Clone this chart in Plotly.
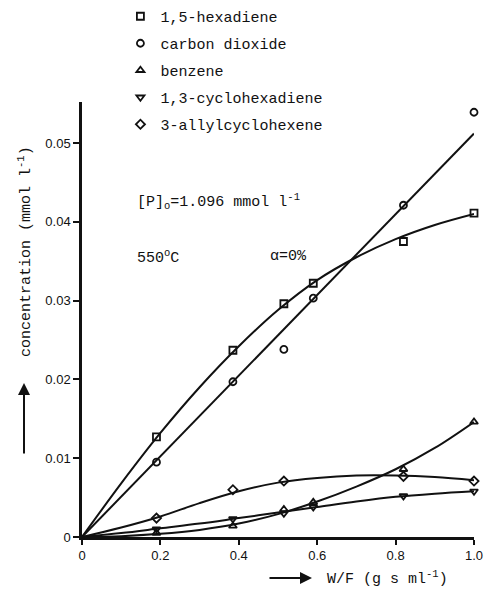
import plotly.graph_objects as go

# ---- data ----
wf = [0, 0.19, 0.385, 0.515, 0.59, 0.82, 1.0]
hexadiene = [0, 0.0127, 0.0237, 0.0296, 0.0322, 0.0375, 0.0411]
co2 = [0, 0.0095, 0.0197, 0.0238, 0.0303, 0.0421, 0.0539]
benzene = [0, 0.0005, 0.0014, 0.0035, 0.0044, 0.0086, 0.0146]
cyclohexadiene = [0, 0.0010, 0.0023, 0.0030, 0.0038, 0.0052, 0.0058]
wf_allyl = [0, 0.19, 0.385, 0.515, 0.82, 1.0]
allyl = [0, 0.0024, 0.0060, 0.0071, 0.0077, 0.0071]

# fitted curves
fit_x = [0, 0.1, 0.2, 0.3, 0.4, 0.5, 0.6, 0.7, 0.8, 0.9, 1.0]
fit_hexadiene = [0, 0.0068, 0.0132, 0.0190, 0.0242, 0.0288, 0.0326, 0.0355, 0.0378, 0.0396, 0.0410]
fit_co2_x = [0, 1.0]
fit_co2 = [0, 0.0512]
fit_benzene = [0, 0.0001, 0.0004, 0.0009, 0.0017, 0.0029, 0.0045, 0.0064, 0.0086, 0.0113, 0.0146]
fit_cyclohexadiene = [0, 0.0005, 0.0011, 0.0017, 0.0024, 0.0031, 0.0038, 0.0045, 0.0051, 0.0055, 0.0058]
fit_allyl = [0, 0.0012, 0.0026, 0.0043, 0.0058, 0.0069, 0.0075, 0.0078, 0.0078, 0.0076, 0.0072]

names = ["1,5-hexadiene", "carbon dioxide", "benzene", "1,3-cyclohexadiene", "3-allylcyclohexene"]
symbols = ["square-open", "circle-open", "triangle-up-open", "triangle-down-open", "diamond-open"]

x_ticks = [0, 0.2, 0.4, 0.6, 0.8, 1.0]
x_ticktext = ["0", "0.2", "0.4", "0.6", "0.8", "1.0"]
y_ticks = [0, 0.01, 0.02, 0.03, 0.04, 0.05]
y_ticktext = ["0", "0.01", "0.02", "0.03", "0.04", "0.05"]

INK = "#111111"
MONO = "Liberation Mono, DejaVu Sans Mono, monospace"
SANS = "Liberation Sans, Arial, sans-serif"

W, H = 487, 590
L, R, T, B = 82, 13, 102, 53
PW, PH = W - L - R, H - T - B


def px_x(p):
    return (p - L) / PW


def px_y(p):
    return (H - B - p) / PH


fig = go.Figure()

fits = [(fit_x, fit_hexadiene, "spline"), (fit_co2_x, fit_co2, "linear"),
        (fit_x, fit_benzene, "spline"), (fit_x, fit_cyclohexadiene, "spline"),
        (fit_x, fit_allyl, "spline")]
for fx, fy, shape in fits:
    fig.add_trace(go.Scatter(x=fx, y=fy, mode="lines", showlegend=False,
                             line=dict(color=INK, width=2, shape=shape, smoothing=1.0),
                             hoverinfo="skip", cliponaxis=False))

pts = [(wf, hexadiene), (wf, co2), (wf, benzene), (wf, cyclohexadiene), (wf_allyl, allyl)]
for i, (px, py) in enumerate(pts):
    fig.add_trace(go.Scatter(x=px[1:], y=py[1:], mode="markers", name=names[i],
                             legendgroup=names[i], cliponaxis=False,
                             marker=dict(symbol=symbols[i], size=7, color=INK,
                                         line=dict(color=INK, width=1.8))))

fig.update_layout(
    width=W, height=H,
    margin=dict(l=L, r=R, t=T, b=B, autoexpand=False),
    paper_bgcolor="white", plot_bgcolor="white",
    showlegend=True,
    legend=dict(x=0.098, y=1.0, xref="paper", yref="container", xanchor="left", yanchor="top",
                font=dict(family=MONO, size=15, color=INK), bgcolor="rgba(0,0,0,0)",
                traceorder="grouped", tracegroupgap=4.5, itemwidth=30),
    xaxis=dict(range=[0, 1.0], showline=True, linecolor=INK, linewidth=2.5,
               ticks="outside", ticklen=5, tickwidth=1.5, tickcolor=INK,
               tickvals=x_ticks, ticktext=x_ticktext, showgrid=False, zeroline=False,
               tickfont=dict(family=SANS, size=13, color=INK)),
    yaxis=dict(range=[0, 0.0552], showline=True, linecolor=INK, linewidth=2.5,
               ticks="outside", ticklen=6, tickwidth=1.5, tickcolor=INK,
               tickvals=y_ticks, ticktext=y_ticktext, showgrid=False, zeroline=False,
               tickfont=dict(family=SANS, size=13, color=INK)),
)

annots = [
    dict(x=px_x(135), y=px_y(201), text="[P]<sub>o</sub>=1.096 mmol l<sup>-1</sup>"),
    dict(x=px_x(135), y=px_y(257), text="550<sup>o</sup>C"),
    dict(x=px_x(268), y=px_y(256), text="α=0%"),
]
for a in annots:
    fig.add_annotation(x=a["x"], y=a["y"], xref="paper", yref="paper", text=a["text"],
                       showarrow=False, xanchor="left", yanchor="middle",
                       font=dict(family=MONO, size=15, color=INK))

# y-axis title and arrow
fig.add_annotation(x=px_x(25), y=px_y(252), xref="paper", yref="paper",
                   text="concentration (mmol l<sup>-1</sup>)",
                   textangle=-90, showarrow=False, xanchor="center", yanchor="middle",
                   font=dict(family=MONO, size=15, color=INK))
fig.add_annotation(x=px_x(24), y=px_y(383), xref="paper", yref="paper", text="",
                   showarrow=True, arrowhead=2, arrowsize=1.2, arrowwidth=2, arrowcolor=INK,
                   ax=0, ay=72, axref="pixel", ayref="pixel")
# x-axis title and arrow
fig.add_annotation(x=px_x(325), y=px_y(578), xref="paper", yref="paper",
                   text="W/F (g s ml<sup>-1</sup>)",
                   showarrow=False, xanchor="left", yanchor="middle",
                   font=dict(family=MONO, size=15, color=INK))
fig.add_annotation(x=px_x(312), y=px_y(578), xref="paper", yref="paper", text="",
                   showarrow=True, arrowhead=2, arrowsize=1.2, arrowwidth=2, arrowcolor=INK,
                   ax=-44, ay=0, axref="pixel", ayref="pixel")

fig.write_html("out.html")
